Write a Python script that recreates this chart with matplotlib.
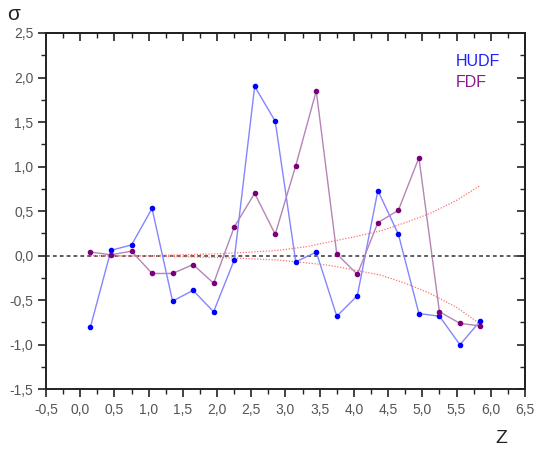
import matplotlib
matplotlib.use("Agg")
import matplotlib.pyplot as plt
from matplotlib.ticker import MultipleLocator, FuncFormatter

plt.rcParams['font.family'] = ['Liberation Sans', 'DejaVu Sans']

# redshift bins
z = [0.15, 0.45, 0.75, 1.05, 1.35, 1.65, 1.95, 2.25, 2.55, 2.85,
     3.15, 3.45, 3.75, 4.05, 4.35, 4.65, 4.95, 5.25, 5.55, 5.85]

hudf = [-0.80, 0.06, 0.12, 0.53, -0.51, -0.39, -0.63, -0.05, 1.90, 1.51,
        -0.07, 0.04, -0.68, -0.45, 0.73, 0.24, -0.65, -0.68, -1.00, -0.73]
fdf = [0.04, 0.01, 0.05, -0.20, -0.20, -0.10, -0.31, 0.32, 0.70, 0.24,
       1.01, 1.85, 0.02, -0.21, 0.37, 0.51, 1.10, -0.63, -0.76, -0.79]

# expected scatter envelope
env_z = [0.15, 1.0, 2.0, 2.5, 2.9, 3.3, 3.65, 4.0, 4.4, 4.75, 5.1, 5.5, 5.85]
env_up = [0.0, 0.0, 0.02, 0.04, 0.06, 0.10, 0.155, 0.21, 0.28, 0.37, 0.47, 0.62, 0.79]
env_lo = [0.0, -0.005, -0.02, -0.035, -0.05, -0.08, -0.11, -0.16, -0.22, -0.31, -0.42, -0.58, -0.77]

fig = plt.figure(figsize=(5.34, 4.5), dpi=100)
ax = fig.add_axes([0.0861, 0.135, 0.8970, 0.7917])

ax.axhline(0, color='#333333', lw=1.1, ls=(0, (2.5, 2)), zorder=1)
ax.plot(env_z, env_up, color='#ff7070', lw=0.9, ls=(0, (1, 1.3)), zorder=2)
ax.plot(env_z, env_lo, color='#ff7070', lw=0.9, ls=(0, (1, 1.3)), zorder=2)

ax.plot(z, hudf, color='#8585ff', lw=1.0, zorder=3)
ax.plot(z, hudf, ls='none', marker='o', ms=3.0, color='#0000ff', zorder=4)
ax.plot(z, fdf, color='#b585b5', lw=1.0, zorder=3)
ax.plot(z, fdf, ls='none', marker='o', ms=3.0, color='#7a007a', zorder=4)

ax.set_xlim(-0.5, 6.5)
ax.set_ylim(-1.5, 2.5)

fmt = FuncFormatter(lambda v, p: f"{v:.1f}".replace('.', ','))
ax.xaxis.set_major_locator(MultipleLocator(0.5))
ax.xaxis.set_minor_locator(MultipleLocator(0.25))
ax.yaxis.set_major_locator(MultipleLocator(0.5))
ax.yaxis.set_minor_locator(MultipleLocator(0.25))
ax.xaxis.set_major_formatter(fmt)
ax.yaxis.set_major_formatter(fmt)
ax.tick_params(which='major', direction='out', length=6, width=1.2,
               labelsize=10, labelcolor='#555555', color='#222222')
ax.tick_params(which='minor', direction='out', length=3.5, width=1.0, color='#222222')
ax.tick_params(axis='x', pad=4)
ax.tick_params(axis='y', pad=3)

# mirrored ticks on top and right point inward
top = ax.secondary_xaxis('top')
top.xaxis.set_major_locator(MultipleLocator(0.5))
top.xaxis.set_minor_locator(MultipleLocator(0.25))
top.tick_params(which='major', direction='in', length=6, width=1.2, labeltop=False, color='#222222')
top.tick_params(which='minor', direction='in', length=3.5, width=1.0, color='#222222')
right = ax.secondary_yaxis('right')
right.yaxis.set_major_locator(MultipleLocator(0.5))
right.yaxis.set_minor_locator(MultipleLocator(0.25))
right.tick_params(which='major', direction='in', length=6, width=1.2, labelright=False, color='#222222')
right.tick_params(which='minor', direction='in', length=3.5, width=1.0, color='#222222')

for sp in list(ax.spines.values()) + [top.spines['top'], right.spines['right']]:
    sp.set_linewidth(1.4)
    sp.set_color('#222222')

ax.text(0.855, 0.908, 'HUDF', transform=ax.transAxes, color='#2020ff',
        fontsize=11.5, va='baseline')
ax.text(0.855, 0.849, 'FDF', transform=ax.transAxes, color='#8a1a8a',
        fontsize=11.5, va='baseline')

fig.text(0.013, 0.955, 'σ', fontsize=15, color='#222222')
fig.text(0.928, 0.015, 'Z', fontsize=14, color='#222222')

fig.savefig('out.png', dpi=100)
